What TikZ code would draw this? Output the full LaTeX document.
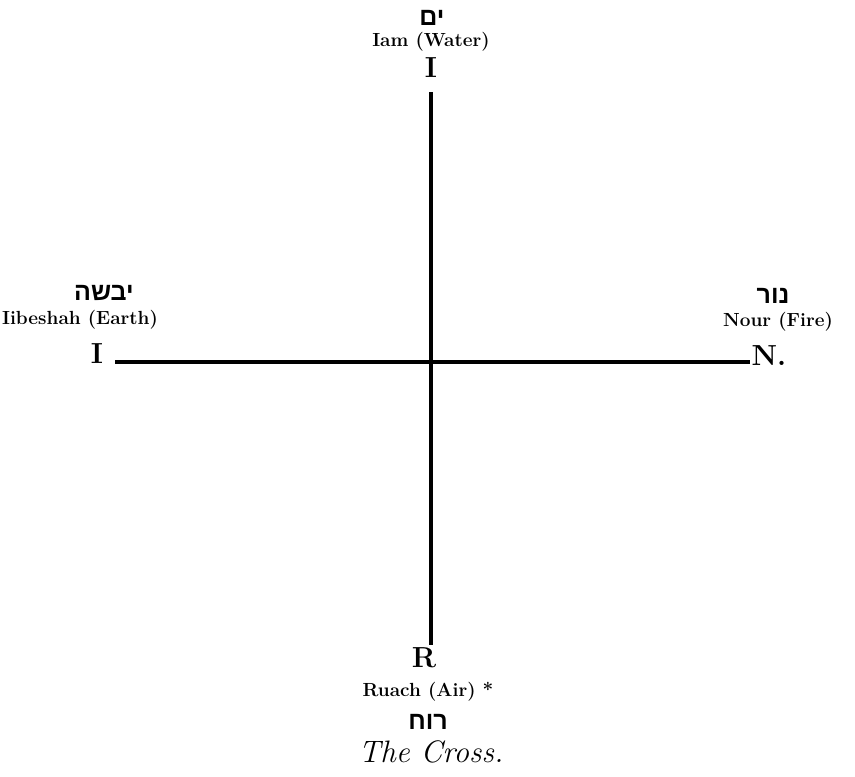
\documentclass[tikz,border=0pt]{standalone}
\usepackage{fontspec}
\newfontfamily\hebfont[Script=Hebrew]{Liberation Sans}
\TeXXeTstate=1
\begin{document}
\begin{tikzpicture}[x=1pt,y=-1pt,
  arm/.style={line width=4.5pt},
  big/.style={inner sep=0pt,font=\fontsize{29}{29}\selectfont\bfseries},
  lab/.style={inner sep=0pt,font=\fontsize{19}{19}\selectfont\bfseries},
  heb/.style={inner sep=0pt,font=\fontsize{25}{25}\selectfont\hebfont\bfseries},
  captext/.style={inner sep=0pt,font=\fontsize{31}{31}\selectfont\itshape}]
\useasboundingbox (0,0) rectangle (855,777);
\coordinate (t) at (431,92);
\coordinate (b) at (431,645);
\coordinate (l) at (115,362);
\coordinate (r) at (750,362);
\draw[arm] (t) -- (b);
\draw[arm] (l) -- (r);
% top
\node[heb] (th) at (432,18) {\beginR ים\endR};
\node[lab] (tl) at (431,42) {Iam (Water)};
\node[big] (ti) at (431,68) {I};
% left
\node[heb] (lh) at (104,293) {\beginR יבשה\endR};
\node[lab] (ll) at (80,320) {Iibeshah (Earth)};
\node[big] (li) at (97,354) {I};
% right
\node[heb] (rh) at (773,296) {\beginR נור\endR};
\node[lab] (rl) at (778,322) {Nour (Fire)};
\node[big] (rn) at (769,356) {N.};
% bottom
\node[big] (br) at (424,658) {R};
\node[lab] (bl) at (428,692) {Ruach (Air) *};
\node[heb] (bh) at (428,722) {\beginR רוח\endR};
\node[captext] (bc) at (431,752) {The Cross.};
\end{tikzpicture}
\end{document}
